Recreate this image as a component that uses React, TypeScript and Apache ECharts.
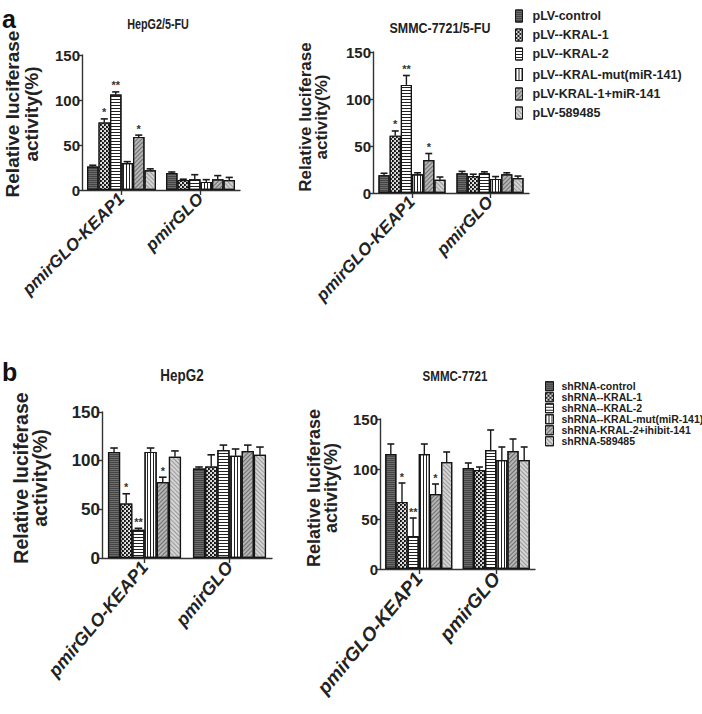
import React, { useEffect, useRef } from "react";
import * as echarts from "echarts";

// ---------- data ----------
const categories = ["pmirGLO-KEAP1", "pmirGLO"];
const seriesNamesA = [
  "pLV-control",
  "pLV--KRAL-1",
  "pLV--KRAL-2",
  "pLV--KRAL-mut(miR-141)",
  "pLV-KRAL-1+miR-141",
  "pLV-589485",
];
const seriesNamesB = [
  "shRNA-control",
  "shRNA--KRAL-1",
  "shRNA--KRAL-2",
  "shRNA--KRAL-mut(miR-141)",
  "shRNA-KRAL-2+ihibit-141",
  "shRNA-589485",
];
const yMax = 150;
const yInterval = 50;

// values[series][category]
const hepg2FuValues = [[26, 19], [75, 11], [106, 12], [30, 9], [59, 12], [22, 11]];
const hepg2FuErrors = [[1.5, 1], [4, 1], [3, 5], [1.5, 2.5], [2, 4], [1.5, 3]];
const hepg2FuStars = [["", ""], ["*", ""], ["**", ""], ["", ""], ["*", ""], ["", ""]];

const smmcFuValues = [[19, 21], [61, 18], [115, 21], [20, 15], [35, 20], [14, 16]];
const smmcFuErrors = [[2, 2], [5, 2], [10, 1.5], [1.5, 2.5], [7, 1.5], [3, 2]];
const smmcFuStars = [["", ""], ["*", ""], ["**", ""], ["", ""], ["*", ""], ["", ""]];

const hepg2Values = [[109, 92], [56, 94], [29, 111], [109, 105], [78, 110], [104, 106]];
const hepg2Errors = [[4, 1.5], [10, 12], [1.5, 5], [4, 7], [5, 6], [6, 8]];
const hepg2Stars = [["", ""], ["*", ""], ["**", ""], ["", ""], ["*", ""], ["", ""]];

const smmcValues = [[115, 101], [67, 99], [33, 119], [115, 109], [75, 118], [107, 109]];
const smmcErrors = [[10, 5], [19, 3], [18, 20], [10, 13], [10, 12], [10, 13]];
const smmcStars = [["", ""], ["*", ""], ["**", ""], ["", ""], ["*", ""], ["", ""]];

// ---------- styles ----------
const SANS = "'Liberation Sans', Arial, sans-serif";
const INK = "#222";

const fills = ["#6c6c6c", "#111111", "#ffffff", "#ffffff", "#b4b4b4", "#d4d4d4"];
const decals: any[] = [
  { symbol: "rect", symbolSize: 1, color: "#454545", dashArrayX: [1, 0], dashArrayY: [1, 1] },
  { symbol: "circle", symbolSize: 1, color: "#ffffff", dashArrayX: [[2, 2], [0, 2, 2, 0]], dashArrayY: [2, 0] },
  { symbol: "rect", symbolSize: 1, color: "#222222", dashArrayX: [1, 0], dashArrayY: [1, 2] },
  { symbol: "rect", symbolSize: 1, color: "#222222", dashArrayX: [1, 2], dashArrayY: [1, 0] },
  { symbol: "rect", symbolSize: 1, color: "#6e6e6e", dashArrayX: [1, 0], dashArrayY: [1, 1.5], rotation: -Math.PI / 4 },
  { symbol: "rect", symbolSize: 1, color: "#9a9a9a", dashArrayX: [1, 0], dashArrayY: [1, 2], rotation: Math.PI / 4 },
];

const panels = [
  {
    grid: { left: 82, top: 55, width: 158, height: 135 },
    gap: 0.127, names: seriesNamesA, values: hepg2FuValues, errors: hepg2FuErrors, stars: hepg2FuStars,
    tickFont: 15, xFont: 17, xRot: 45,
  },
  {
    grid: { left: 373, top: 52, width: 156, height: 141 },
    gap: 0.14, names: seriesNamesA, values: smmcFuValues, errors: smmcFuErrors, stars: smmcFuStars,
    tickFont: 15, xFont: 17, xRot: 47,
  },
  {
    grid: { left: 102, top: 412, width: 170, height: 146 },
    gap: 0.14, names: seriesNamesB, values: hepg2Values, errors: hepg2Errors, stars: hepg2Stars,
    tickFont: 17, xFont: 18, xRot: 50,
  },
  {
    grid: { left: 380, top: 419, width: 155, height: 150 },
    gap: 0.135, names: seriesNamesB, values: smmcValues, errors: smmcErrors, stars: smmcStars,
    tickFont: 15, xFont: 19, xRot: 50,
  },
];

// legend rows (centre y of each entry)
const legendRowsA = [11, 30, 49, 69.5, 89, 108];
const legendRowsB = [381, 392, 403, 414, 425, 436];

function buildOption() {
  const grid: any[] = [];
  const xAxis: any[] = [];
  const yAxis: any[] = [];
  const series: any[] = [];

  panels.forEach((p, pi) => {
    grid.push({ ...p.grid, containLabel: false });
    xAxis.push({
      type: "category",
      gridIndex: pi,
      data: categories,
      boundaryGap: true,
      axisLine: { show: true, lineStyle: { color: "#333", width: 1.4 } },
      axisTick: { show: true, alignWithLabel: true, length: 5, lineStyle: { color: "#333", width: 1.4 } },
      axisLabel: {
        interval: 0,
        rotate: p.xRot,
        margin: 6,
        color: INK,
        fontFamily: SANS,
        fontWeight: "bold",
        fontStyle: "italic",
        fontSize: p.xFont,
      },
      splitLine: { show: false },
    });
    yAxis.push({
      type: "value",
      gridIndex: pi,
      min: 0,
      max: yMax,
      interval: yInterval,
      axisLine: { show: true, lineStyle: { color: "#333", width: 1.4 } },
      axisTick: { show: true, length: 4, lineStyle: { color: "#333", width: 1.4 } },
      axisLabel: { margin: 2, color: INK, fontFamily: SANS, fontWeight: "bold", fontSize: p.tickFont },
      splitLine: { show: false },
    });

    p.names.forEach((name, si) => {
      series.push({
        type: "bar",
        name,
        xAxisIndex: pi,
        yAxisIndex: pi,
        data: p.values[si],
        barGap: "0%",
        barCategoryGap: `${p.gap * 100}%`,
        itemStyle: {
          color: fills[si],
          borderColor: "#151515",
          borderWidth: 1.2,
          decal: decals[si],
        },
        emphasis: { disabled: true },
        silent: true,
      });
    });

    const items: any[] = [];
    p.values.forEach((row, si) =>
      row.forEach((v, ci) => items.push({ s: si, c: ci, v, e: p.errors[si][ci], star: p.stars[si][ci] }))
    );
    const gap = p.gap;
    series.push({
      type: "custom",
      xAxisIndex: pi,
      yAxisIndex: pi,
      z: 10,
      silent: true,
      data: items.map((it) => [it.c, it.v + it.e]),
      renderItem: (params: any, api: any) => {
        const it = items[params.dataIndex];
        const band = api.size([1, 0])[0];
        const groupW = band * (1 - gap);
        const barW = groupW / 6;
        const center = api.coord([it.c, 0]);
        const topY = api.coord([it.c, it.v])[1];
        const errY = api.coord([it.c, it.v + it.e])[1];
        const x = center[0] - groupW / 2 + (it.s + 0.5) * barW;
        const capW = barW * 0.62;
        const children: any[] = [
          { type: "line", shape: { x1: x, y1: topY, x2: x, y2: errY }, style: { stroke: "#1a1a1a", lineWidth: 1.4 } },
          { type: "line", shape: { x1: x - capW / 2, y1: errY, x2: x + capW / 2, y2: errY }, style: { stroke: "#1a1a1a", lineWidth: 1.6 } },
        ];
        if (it.star) {
          children.push({
            type: "text",
            style: {
              text: it.star,
              x,
              y: errY - 1,
              align: "center",
              verticalAlign: "bottom",
              fontSize: 11,
              fontWeight: "bold",
              fontFamily: SANS,
              fill: "#333",
            },
          });
        }
        return { type: "group", children };
      },
    });
  });

  const graphic: any[] = [
    { type: "text", left: 2, top: 6, style: { text: "a", fontSize: 25, fontWeight: "bold", fontFamily: SANS, fill: "#111" } },
    { type: "text", left: 2, top: 359, style: { text: "b", fontSize: 25, fontWeight: "bold", fontFamily: SANS, fill: "#111" } },
  ];
  const titles = [
    { text: "HepG2/5-FU", x: 158, y: 24, size: 15, sx: 0.72 },
    { text: "SMMC-7721/5-FU", x: 440, y: 28, size: 15, sx: 0.83 },
    { text: "HepG2", x: 182, y: 376, size: 16, sx: 0.84 },
    { text: "SMMC-7721", x: 455, y: 376, size: 15, sx: 0.77 },
  ];
  titles.forEach((t) =>
    graphic.push({
      type: "text",
      x: t.x,
      y: t.y,
      scaleX: t.sx,
      style: { text: t.text, align: "center", verticalAlign: "middle", fontSize: t.size, fontWeight: "bold", fontFamily: SANS, fill: INK },
    })
  );
  const yNames = [
    { x: 12, x2: 31, y: 114, size: 19 },
    { x: 305, x2: 321, y: 117, size: 17 },
    { x: 21, x2: 40, y: 478, size: 19.5 },
    { x: 314, x2: 331, y: 488, size: 18 },
  ];
  yNames.forEach((n) => {
    graphic.push({
      type: "text", x: n.x, y: n.y, rotation: Math.PI / 2,
      style: { text: "Relative luciferase", align: "center", verticalAlign: "middle", fontSize: n.size, fontWeight: "bold", fontFamily: SANS, fill: INK },
    });
    graphic.push({
      type: "text", x: n.x2, y: n.y, rotation: Math.PI / 2,
      style: { text: "activity(%)", align: "center", verticalAlign: "middle", fontSize: n.size, fontWeight: "bold", fontFamily: SANS, fill: INK },
    });
  });

  const legend: any[] = [];
  seriesNamesA.forEach((name, i) => {
    legend.push({
      data: [name],
      orient: "vertical",
      left: 510,
      top: legendRowsA[i] - 6.5,
      icon: "rect",
      itemWidth: 7,
      itemHeight: 12,
      selectedMode: false,
      itemStyle: { borderColor: "#151515", borderWidth: 1 },
      textStyle: { fontFamily: SANS, fontWeight: "bold", fontSize: 12.5, color: INK, padding: [0, 0, 0, 5] },
    });
  });
  seriesNamesB.forEach((name, i) => {
    legend.push({
      data: [name],
      orient: "vertical",
      left: 540,
      top: legendRowsB[i] - 5.25,
      icon: "rect",
      itemWidth: 8,
      itemHeight: 9,
      selectedMode: false,
      itemStyle: { borderColor: "#151515", borderWidth: 1 },
      textStyle: { fontFamily: SANS, fontWeight: "bold", fontSize: 10.5, color: INK, padding: [0, 0, 0, 3] },
    });
  });

  return {
    animation: false,
    backgroundColor: "#ffffff",
    grid,
    xAxis,
    yAxis,
    series,
    legend,
    graphic,
  };
}

export default function App() {
  const ref = useRef<HTMLDivElement>(null);
  useEffect(() => {
    if (!ref.current) return;
    const chart = echarts.init(ref.current, undefined, { renderer: "svg" });
    chart.setOption(buildOption() as any);
    return () => chart.dispose();
  }, []);
  return (
    <div
      ref={ref}
      style={{ position: "absolute", left: 0, top: 0, width: 702, height: 714, background: "#fff" }}
    />
  );
}
